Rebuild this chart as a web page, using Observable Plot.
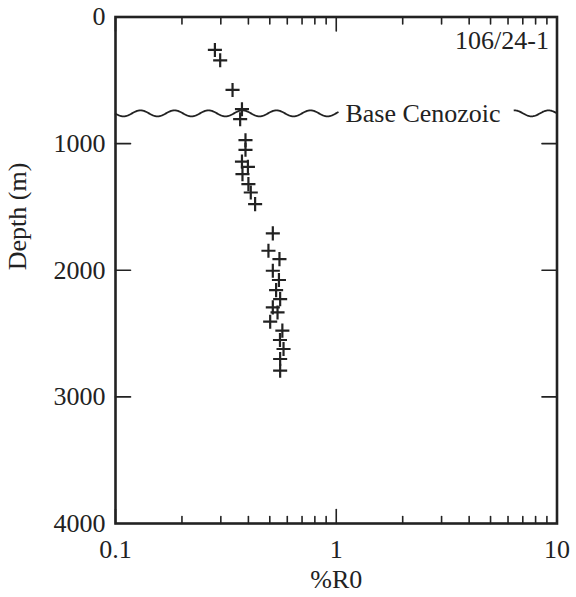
<!DOCTYPE html>
<html><head><meta charset="utf-8">
<script src="https://cdn.jsdelivr.net/npm/d3@7"></script>
<script src="https://cdn.jsdelivr.net/npm/@observablehq/plot@0.6"></script>
<style>html,body{margin:0;padding:0;background:#fff} svg{display:block}</style>
</head><body><div id="chart"></div>
<script>
// vitrinite reflectance (%Ro) vs depth (m), well 106/24-1
const ro = [0.282,0.298,0.339,0.374,0.367,0.388,0.388,0.374,0.398,0.376,0.400,0.410,0.429,
            0.516,0.493,0.553,0.516,0.550,0.534,0.557,0.516,0.542,0.502,0.570,0.556,0.577,0.557,0.557];
const depth = [260,342,576,728,807,973,1049,1142,1183,1241,1320,1386,1478,
               1709,1846,1912,2004,2077,2157,2228,2293,2333,2406,2477,2551,2622,2701,2793];
const xMajorTicks = [0.1, 1, 10];
const xMinorTicks = [0.2,0.3,0.4,0.5,0.6,0.7,0.8,0.9,2,3,4,5,6,7,8,9];
const yTickLabels = [0, 1000, 2000, 3000, 4000];
const yInnerTicks = [1000, 2000, 3000];
const wellLabel = "106/24-1";
const horizonLabel = "Base Cenozoic";
const horizonDepth = 765;
const horizonLabelX = 1.1;
const waveSegments = [[0.1, 1.03], [6.4, 10]];
const xLabel = "%R0";
const yLabel = "Depth (m)";

const data = ro.map((r, i) => ({ro: r, depth: depth[i]}));
const tickShape = {draw(ctx, l) { ctx.moveTo(0, 0); ctx.lineTo(0, -l); }};
const ink = "#222";
const font = "'Liberation Serif', 'Times New Roman', serif";

const vt = (d, anchor, rot, len) => Plot.vector(d, {
  ...(anchor === "top" || anchor === "bottom" ? {x: v => v} : {y: v => v}),
  frameAnchor: anchor, rotate: rot, length: len, shape: tickShape, anchor: "start",
  stroke: ink, strokeWidth: 1.6
});

const plot = Plot.plot({
  width: 576, height: 597,
  marginLeft: 115, marginRight: 19.5, marginTop: 16.5, marginBottom: 74,
  style: {fontFamily: font, background: "#fff", color: ink},
  x: {type: "log", domain: [0.1, 10], axis: null},
  y: {domain: [0, 4000], reverse: true, axis: null},
  marks: [
    vt(xMinorTicks, "bottom", 0, 7),
    vt(xMinorTicks, "top", 180, 7),
    vt(xMajorTicks, "bottom", 0, 14),
    vt(xMajorTicks, "top", 180, 14),
    vt(yInnerTicks, "left", 90, 15),
    vt(yInnerTicks, "right", 270, 15),
    Plot.axisX(xMajorTicks, {anchor: "bottom", tickSize: 0, tickPadding: 16, fontSize: 26,
      tickFormat: d => String(d), fill: ink, label: null}),
    Plot.axisY(yTickLabels, {anchor: "left", tickSize: 0, tickPadding: 10, fontSize: 26,
      tickFormat: d => String(d), fill: ink, label: null}),
    Plot.text([xLabel], {frameAnchor: "bottom", dy: 64, text: d => d, fontSize: 26, fill: ink}),
    Plot.text([yLabel], {frameAnchor: "left", dx: -98, rotate: -90, text: d => d, fontSize: 26, fill: ink}),
    Plot.text([wellLabel], {frameAnchor: "top-right", dx: -8, dy: 14, text: d => d, fontSize: 26,
      textAnchor: "end", fill: ink}),
    Plot.text([horizonLabel], {x: () => horizonLabelX, y: () => horizonDepth, text: d => d,
      textAnchor: "start", fontSize: 26, fill: ink}),
    Plot.dot(data, {x: "ro", y: "depth", symbol: "plus", r: 4.6, stroke: ink, strokeWidth: 2.2}),
    Plot.frame({stroke: ink, strokeWidth: 2.6})
  ]
});

// unconformity wave, placed through the plot's own scales
const xs = plot.scale("x"), ys = plot.scale("y");
const y0 = ys.apply(horizonDepth);
const X0 = xs.apply(0.1);
const P = 34, A = 3;
for (const [a, b] of waveSegments) {
  const x1 = xs.apply(a), x2 = xs.apply(b);
  const pts = d3.range(x1, x2 + 0.01, 0.5).map(x => [x, y0 + A * Math.sin(2 * Math.PI * (x - X0) / P)]);
  d3.select(plot).append("path")
    .attr("d", d3.line()(pts))
    .attr("fill", "none").attr("stroke", ink).attr("stroke-width", 1.8);
}
document.getElementById("chart").append(plot);
</script>
</body></html>
